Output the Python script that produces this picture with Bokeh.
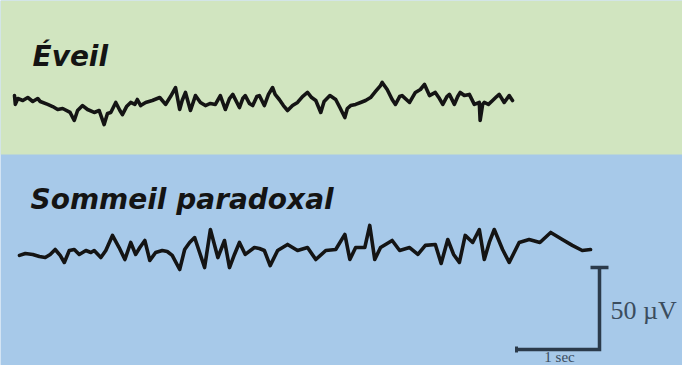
import numpy as np
from bokeh.plotting import figure
from bokeh.models import Range1d, Label
from bokeh.embed import file_html
from bokeh.resources import INLINE

# ---- data: EEG traces (time in s, amplitude in µV relative to trace baseline)
eveil_t = [
    0.00, 0.01, 0.04, 0.10, 0.16, 0.22, 0.28, 0.31, 0.40, 0.46,
    0.52, 0.58, 0.67, 0.72, 0.76, 0.82, 0.88, 0.96, 1.02, 1.08,
    1.12, 1.16, 1.22, 1.27, 1.30, 1.35, 1.40, 1.45, 1.48, 1.52,
    1.58, 1.66, 1.75, 1.82, 1.88, 1.94, 1.99, 2.02, 2.06, 2.12,
    2.18, 2.24, 2.30, 2.36, 2.42, 2.48, 2.54, 2.59, 2.63, 2.71,
    2.75, 2.78, 2.83, 2.87, 2.92, 2.95, 3.01, 3.06, 3.11, 3.14,
    3.19, 3.24, 3.29, 3.35, 3.41, 3.47, 3.53, 3.58, 3.63, 3.69,
    3.73, 3.80, 3.87, 3.92, 3.98, 4.01, 4.05, 4.11, 4.17, 4.23,
    4.29, 4.35, 4.41, 4.43, 4.49, 4.55, 4.59, 4.64, 4.67, 4.76,
    4.83, 4.89, 4.94, 5.00, 5.07, 5.12, 5.16, 5.21, 5.24, 5.30,
    5.34, 5.37, 5.42, 5.48, 5.54, 5.60, 5.61, 5.64, 5.66, 5.71,
    5.76, 5.81, 5.84, 5.90, 5.96, 6.00,
]
eveil_uv = [
    2.4, -3.0, 0.6, -0.6, 1.2, -1.2, 0.6, -1.2, -3.0, -4.3,
    -6.1, -5.5, -7.9, -12.8, -6.7, -3.7, -6.1, -7.9, -6.7, -15.3,
    -8.5, -7.9, -1.8, -6.7, -9.2, -4.3, -1.8, -3.0, 0.0, -3.7,
    -1.8, -0.6, 1.2, -3.0, 1.8, 7.3, -6.1, -0.6, 4.3, -6.7,
    2.4, -1.8, -3.7, -2.4, -3.0, 2.4, -6.1, 0.6, 3.1, -4.9,
    0.6, 2.4, -2.4, -3.7, 1.8, 2.4, -3.7, 3.1, 7.3, 3.1,
    0.0, -3.7, -6.7, -3.7, -1.8, 1.8, 4.3, 1.2, -0.6, -7.9,
    -1.2, 2.4, 0.0, -4.9, -11.0, -5.5, -3.7, -3.0, -1.8, -0.6,
    1.2, 4.9, 8.5, 10.4, 6.1, 0.0, -3.0, 1.8, 2.4, -1.8,
    4.3, 6.1, 9.2, 2.4, 4.3, 0.6, -3.0, 1.8, 3.1, -3.0,
    1.8, 4.3, 2.4, 3.1, -3.0, -1.8, -12.8, -3.0, -1.8, -3.0,
    -0.6, 1.8, 3.1, -1.8, 2.4, -0.6,
]
sommeil_t = [
    0.00, 0.07, 0.16, 0.24, 0.31, 0.37, 0.43, 0.49, 0.54, 0.60,
    0.66, 0.72, 0.80, 0.86, 0.90, 0.98, 1.04, 1.12, 1.20, 1.27,
    1.34, 1.40, 1.45, 1.51, 1.57, 1.64, 1.72, 1.78, 1.84, 1.93,
    1.99, 2.05, 2.11, 2.17, 2.23, 2.30, 2.39, 2.47, 2.53, 2.59,
    2.65, 2.72, 2.83, 2.89, 2.95, 3.02, 3.11, 3.23, 3.35, 3.47,
    3.57, 3.69, 3.81, 3.92, 3.98, 4.05, 4.16, 4.22, 4.28, 4.35,
    4.49, 4.58, 4.70, 4.80, 4.89, 5.01, 5.08, 5.16, 5.23, 5.30,
    5.37, 5.46, 5.54, 5.60, 5.66, 5.72, 5.82, 5.90, 6.02, 6.14,
    6.27, 6.40, 6.54, 6.66, 6.78, 6.88,
]
sommeil_uv = [
    -3.0, -1.8, -2.4, -3.7, -4.3, -2.4, 0.6, -3.0, -7.3, 0.0,
    0.6, -2.4, 0.0, -1.2, 0.0, -4.3, 0.0, 9.2, 1.8, -5.5,
    4.9, -2.4, 1.8, 6.1, -6.1, -1.2, 0.0, -0.6, -3.0, -11.6,
    0.6, 4.9, 7.9, -1.2, -10.4, 12.8, -4.3, 6.1, -10.4, -2.4,
    4.9, -2.4, 1.8, 1.2, 0.0, -9.2, 0.0, 3.7, 0.0, 1.8,
    -5.5, 0.0, 0.6, 9.8, -5.5, 1.8, 1.8, 15.3, -5.5, 1.8,
    6.1, 0.0, 1.8, -2.4, 3.1, 3.7, -7.9, 6.7, -2.4, -7.3,
    9.2, 4.9, 12.8, -5.5, 4.9, 12.8, 0.6, -7.3, 4.9, 6.7,
    4.9, 11.0, 6.7, 3.1, 0.0, 0.6,
]
labels = ["Éveil", "Sommeil paradoxal"]
scale_uv = 50      # µV
scale_sec = 1      # s
scale_labels = ["50 µV", "1 sec"]

# ---- layout / style
W, H = 682, 365
PX_S = 83.0     # px per second
PX_UV = 1.64    # px per µV
GREEN = "#d1e5c0"
BLUE = "#a7c9e9"
INK = "#141414"
SCALE_INK = "#2b3a4a"

p = figure(width=W, height=H, x_range=Range1d(0, W / PX_S), y_range=Range1d(0, H / PX_UV),
           output_backend="svg", toolbar_location=None, min_border=0,
           x_axis_type=None, y_axis_type=None)
p.grid.visible = False
p.outline_line_color = None
p.background_fill_color = BLUE
p.border_fill_color = "white"

# green band (upper panel)
p.quad(left=0, right=W / PX_S, bottom=(H - 154) / PX_UV, top=H / PX_UV,
       fill_color=GREEN, line_color=None)

# traces
ex0, ey0 = 14 / PX_S, (H - 99) / PX_UV
sx0, sy0 = 19 / PX_S, (H - 250) / PX_UV
p.line(np.array(eveil_t) + ex0, np.array(eveil_uv) + ey0, line_width=3.6,
       color=INK, line_join="round", line_cap="round")
p.line(np.array(sommeil_t) + sx0, np.array(sommeil_uv) + sy0, line_width=3.6,
       color=INK, line_join="round", line_cap="round")

# scale bar (corner)
cx, cy = 599 / PX_S, 16 / PX_UV
p.line([cx - scale_sec, cx, cx], [cy, cy, cy + scale_uv], line_width=3.5,
       color=SCALE_INK, line_join="miter")
p.line([cx - 9 / PX_S, cx + 9 / PX_S], [cy + scale_uv, cy + scale_uv],
       line_width=3.5, color=SCALE_INK)
p.line([cx - scale_sec, cx - scale_sec], [cy - 3 / PX_UV, cy + 3 / PX_UV],
       line_width=3, color=SCALE_INK)

# titles
for txt, x, y in [(labels[0], 32, H - 56), (labels[1], 30, H - 199)]:
    p.add_layout(Label(x=x, y=y, x_units="screen", y_units="screen", text=txt,
                       text_font="DejaVu Sans", text_font_style="bold italic",
                       text_font_size="28px", text_color=INK,
                       text_baseline="alphabetic"))

p.add_layout(Label(x=610, y=H - 310, x_units="screen", y_units="screen",
                   text=scale_labels[0], text_font="Liberation Serif",
                   text_font_size="26px", text_color="#3b4d5e",
                   text_baseline="middle"))
p.add_layout(Label(x=559, y=1, x_units="screen", y_units="screen",
                   text=scale_labels[1], text_font="Liberation Serif",
                   text_font_size="15px", text_color="#3b4d5e",
                   text_align="center", text_baseline="bottom"))

open("out.html", "w").write(file_html(p, INLINE))
